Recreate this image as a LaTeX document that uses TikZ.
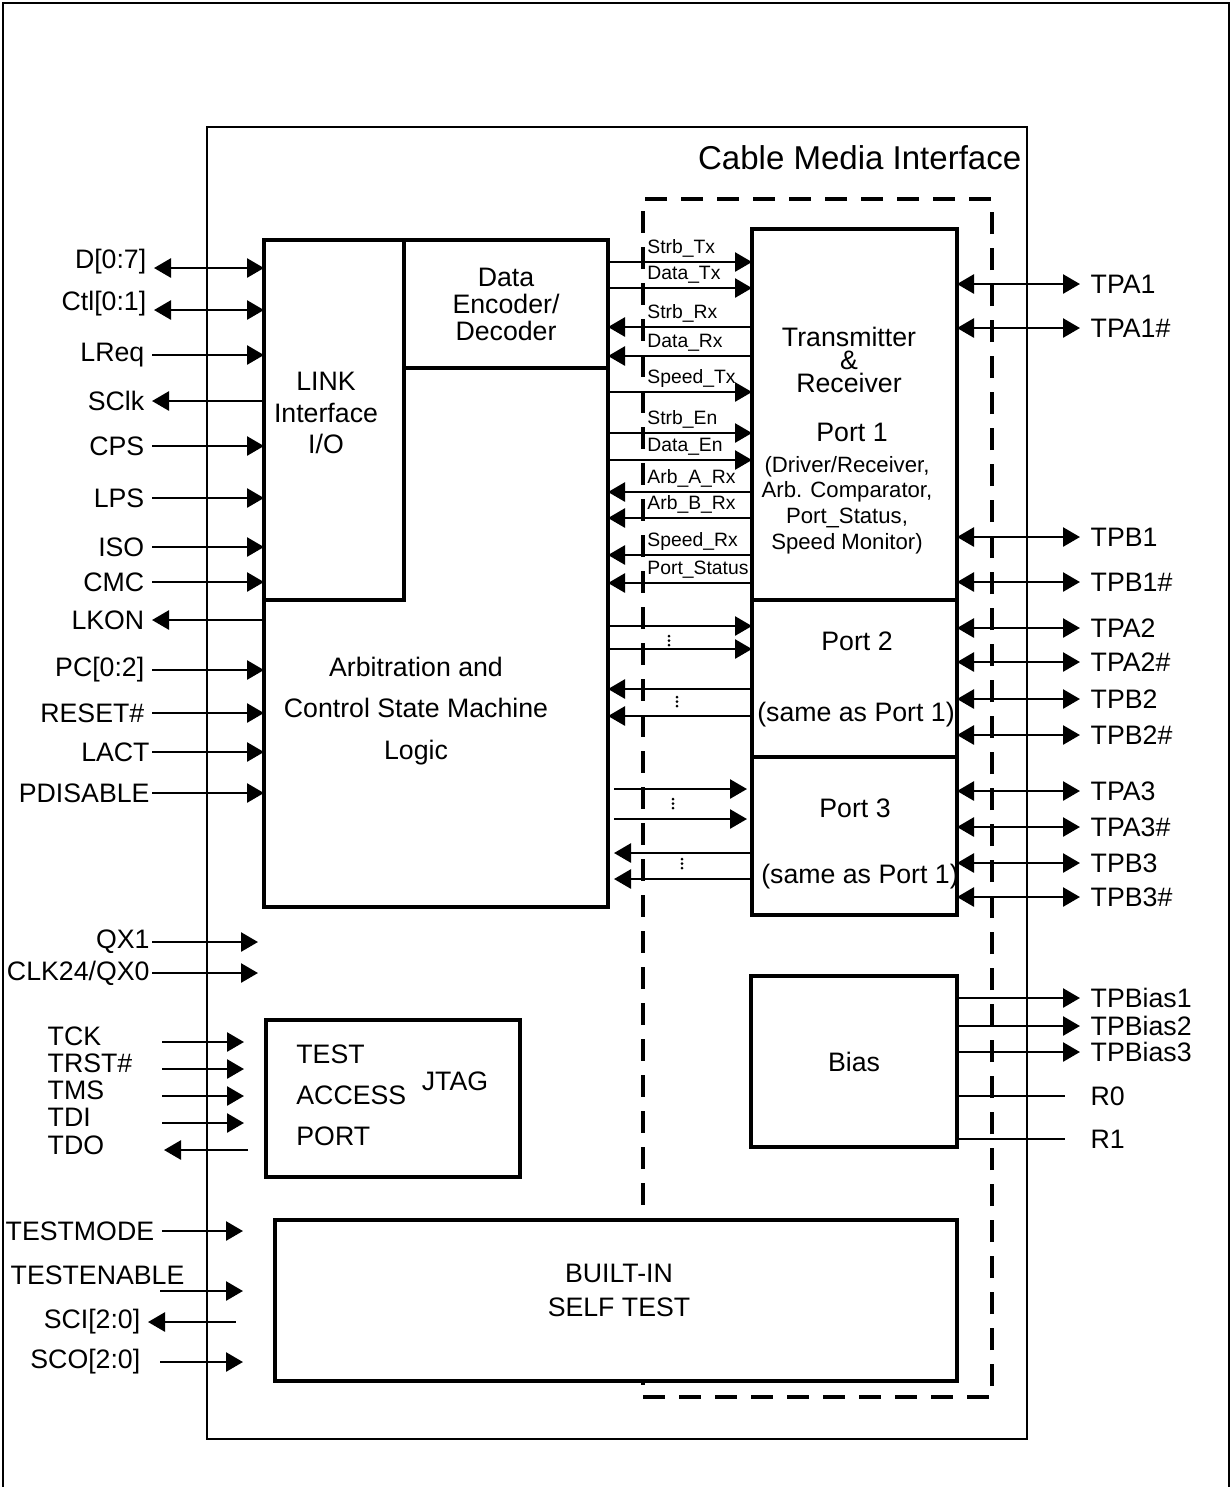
\documentclass[tikz,border=0pt]{standalone}
\usepackage{fontspec}
\setmainfont{Liberation Sans}
\usetikzlibrary{arrows.meta}

\tikzset{
  blk/.style={draw, line width=0.4mm, inner sep=0pt, outer sep=0pt},
  sig/.style={line width=0.27mm},
  lab/.style={font=\fontsize{7.6}{9}\selectfont},
  llab/.style={lab, anchor=east, inner sep=2pt},
  tlab/.style={lab, anchor=east, inner sep=0.5pt},
  rlab/.style={lab, anchor=west, inner sep=1mm},
  wlab/.style={font=\fontsize{5.5}{6.5}\selectfont, inner sep=1pt},
  ellip/.style={line width=0.3mm, line cap=round, dash pattern=on 0mm off 0.45mm},
}

\begin{document}
\begin{tikzpicture}[x=0.1mm, y=-0.1mm, >={Triangle[length=1.7mm, width=1.9mm]}]
  \useasboundingbox (0,0) rectangle (1232,1487);
  \draw[line width=0.2mm] (3,1487) -- (3,3) -- (1229,3) -- (1229,1487);

  % chip outline and cable media interface
  \node[draw, line width=0.22mm, inner sep=0pt, minimum width=82mm, minimum height=131.2mm] (chip) at (617,783) {};
  \node[anchor=east, inner sep=0pt, font=\fontsize{9.4}{11}\selectfont] (cmi) at (1022,158) {Cable Media Interface};
  \node[draw, line width=0.4mm, dash pattern=on 2.2mm off 1.4mm, inner sep=0pt, minimum width=34.9mm, minimum height=119.8mm] (cable) at (817.5,798) {};

  % link layer side
  \node[blk, minimum width=34.4mm, minimum height=66.7mm] (arb) at (436,573.5) {};
  \node[blk, minimum width=14mm, minimum height=36mm] (link) at (334,420) {};
  \node[lab, align=center] (linktxt) at (326,413) {LINK\\Interface\\I/O};
  \node[blk, minimum width=20.4mm, minimum height=12.8mm, align=center, font=\fontsize{7.6}{7.7}\selectfont] (enc) at (506,304) {Data\\Encoder/\\Decoder};
  \node[align=center, font=\fontsize{7.6}{11.7}\selectfont] (arbtxt) at (416,711) {Arbitration and\\Control State Machine\\Logic};

  % ports
  \node[blk, minimum width=20.5mm, minimum height=37.1mm] (p1) at (854.5,414.5) {};
  \node[blk, minimum width=20.5mm, minimum height=15.7mm] (p2) at (854.5,678.5) {};
  \node[blk, minimum width=20.5mm, minimum height=15.8mm] (p3) at (854.5,836) {};
  \node[align=center, font=\fontsize{7.6}{6.5}\selectfont] (p1txt) at (849,360) {Transmitter\\\&\\Receiver};
  \node[lab] (p1name) at (852,432) {Port 1};
  \node[align=center, font=\fontsize{6.3}{7.3}\selectfont] (p1note) at (847,505) {(Driver/Receiver,\\Arb. Comparator,\\Port\_Status,\\Speed Monitor)};
  \node[lab] (p2name) at (857,641) {Port 2};
  \node[lab] (p2note) at (856,715) {(same as Port 1)};
  \node[lab] (p3name) at (855,808) {Port 3};
  \node[lab] (p3note) at (860,877) {(same as Port 1)};

  % bias, jtag, bist
  \node[blk, lab, minimum width=20.6mm, minimum height=17.1mm] (bias) at (854,1061.5) {Bias};
  \node[blk, minimum width=25.4mm, minimum height=15.7mm] (jtag) at (393,1098.5) {};
  \node[anchor=west, align=left, font=\fontsize{7.6}{11.7}\selectfont] (taptxt) at (284,1095) {TEST\\ACCESS\\PORT};
  \node[lab] (jtagtxt) at (455,1081) {JTAG};
  \node[blk, fill=white, minimum width=68.2mm, minimum height=16.1mm] (bist) at (616,1300.5) {};
  \node[align=center, font=\fontsize{7.6}{9.7}\selectfont] (bisttxt) at (619,1290) {BUILT-IN\\SELF TEST};

  % link interface signals
  \node[llab, anchor=base east] (d) at (154,268) {D[0:7]};
  \draw[sig,<->] (d.base east) -- (d.base east -| link.west);
  \node[llab, anchor=base east] (ctl) at (154,310) {Ctl[0:1]};
  \draw[sig,<->] (ctl.base east) -- (ctl.base east -| link.west);
  \foreach \name/\txt/\y in {lreq/LReq/355, cps/CPS/446, lps/LPS/498, iso/ISO/547, cmc/CMC/582,
      pc/PC[0:2]/670, reset/RESET\#/713}{
    \node[llab] (\name) at (152,\y) {\txt};
    \draw[sig,->] (\name.east) -- (\name.east -| arb.west);
  }
  \foreach \name/\txt/\y in {lact/LACT/752, pdis/PDISABLE/793}{
    \node[tlab] (\name) at (152,\y) {\txt};
    \draw[sig,->] (\name.east) -- (\name.east -| arb.west);
  }
  \foreach \name/\txt/\y in {sclk/SClk/401, lkon/LKON/620}{
    \node[llab] (\name) at (152,\y) {\txt};
    \draw[sig,<-] (\name.east) -- (\name.east -| arb.west);
  }

  % crystal
  \node[tlab] (qx1) at (152,942) {QX1};
  \draw[sig,->, shorten >=0.6mm] (qx1.east) -- (qx1.east -| arb.west);
  \node[tlab] (clk) at (152,973) {CLK24/QX0};
  \draw[sig,->, shorten >=0.6mm] (clk.east) -- (clk.east -| arb.west);

  % jtag
  \foreach \name/\txt/\y in {tck/TCK/1042, trst/TRST\#/1069, tms/TMS/1096, tdi/TDI/1123}{
    \node[lab, anchor=west, inner sep=0pt] (\name) at (47,\y-6) {\txt};
    \coordinate (\name-in) at (162,\y);
    \draw[sig,->, shorten >=2.2mm] (\name-in) -- (\name-in -| jtag.west);
  }
  \node[lab, anchor=west, inner sep=0pt] (tdo) at (47,1145) {TDO};
  \coordinate (tdo-in) at (164,1150);
  \draw[sig,->, shorten <=1.8mm] (tdo-in -| jtag.west) -- (tdo-in);

  % self test
  \node[lab, anchor=west, inner sep=0pt] (tmode) at (5,1231) {TESTMODE};
  \draw[sig,->, shorten <=0.7mm, shorten >=3.2mm] (tmode.east) -- (tmode.east -| bist.west);
  \node[lab, anchor=west, inner sep=0pt] (ten) at (10,1275) {TESTENABLE};
  \coordinate (ten-in) at (160,1291);
  \draw[sig,->, shorten >=3.2mm] (ten-in) -- (ten-in -| bist.west);
  \node[llab] (sci) at (148,1322) {SCI[2:0]};
  \draw[sig,<-, shorten >=3.9mm] (sci.east) -- (sci.east -| bist.west);
  \node[llab] (sco) at (148,1362) {SCO[2:0]};
  \draw[sig,->, shorten <=1.2mm, shorten >=3.2mm] (sco.east) -- (sco.east -| bist.west);

  % port 1 <-> arbitration
  \foreach \y/\txt in {262/Strb\_Tx, 288/Data\_Tx, 392/Speed\_Tx, 433/Strb\_En, 460/Data\_En}{
    \draw[sig,->] (arb.east |- 0,\y) -- node[wlab, pos=0.24, anchor=south west] {\txt} (p1.west |- 0,\y);
  }
  \foreach \y/\txt in {327/Strb\_Rx, 356/Data\_Rx, 492/Arb\_A\_Rx, 518/Arb\_B\_Rx, 555/Speed\_Rx, 583/Port\_Status}{
    \draw[sig,<-] (arb.east |- 0,\y) -- node[wlab, pos=0.24, anchor=south west] {\txt} (p1.west |- 0,\y);
  }

  % port 2 and port 3
  \foreach \y in {626,649} \draw[sig,->] (arb.east |- 0,\y) -- (p2.west |- 0,\y);
  \foreach \y in {689,716} \draw[sig,<-] (arb.east |- 0,\y) -- (p2.west |- 0,\y);
  \foreach \y in {789,819} \draw[sig,->, shorten <=0.6mm, shorten >=0.5mm] (arb.east |- 0,\y) -- (p3.west |- 0,\y);
  \foreach \y in {853,879} \draw[sig,<-, shorten <=0.6mm] (arb.east |- 0,\y) -- (p3.west |- 0,\y);
  \draw[ellip] (669,636) -- (669,645);
  \draw[ellip] (677,697) -- (677,706);
  \draw[ellip] (673,799) -- (673,810);
  \draw[ellip] (682,859) -- (682,868);

  % cable side
  \foreach \name/\txt/\y/\prt in {tpa1/TPA1/284/p1, tpa1n/TPA1\#/328/p1, tpb1/TPB1/537/p1, tpb1n/TPB1\#/582/p1,
      tpa2/TPA2/628/p2, tpa2n/TPA2\#/662/p2, tpb2/TPB2/699/p2, tpb2n/TPB2\#/735/p2,
      tpa3/TPA3/791/p3, tpa3n/TPA3\#/827/p3, tpb3/TPB3/863/p3, tpb3n/TPB3\#/897/p3}{
    \node[rlab] (\name) at (1080,\y) {\txt};
    \draw[sig,<->] (\name.west -| \prt.east) -- (\name.west);
  }

  % bias outputs
  \foreach \n/\y in {1/998, 2/1026, 3/1052}{
    \node[rlab] (tpbias\n) at (1080,\y) {TPBias\n};
    \draw[sig,->] (tpbias\n.west -| bias.east) -- (tpbias\n.west);
  }
  \node[rlab] (r0) at (1080,1096) {R0};
  \draw[sig, shorten >=1.5mm] (r0.west -| bias.east) -- (r0.west);
  \node[rlab] (r1) at (1080,1139) {R1};
  \draw[sig, shorten >=1.5mm] (r1.west -| bias.east) -- (r1.west);
\end{tikzpicture}
\end{document}
